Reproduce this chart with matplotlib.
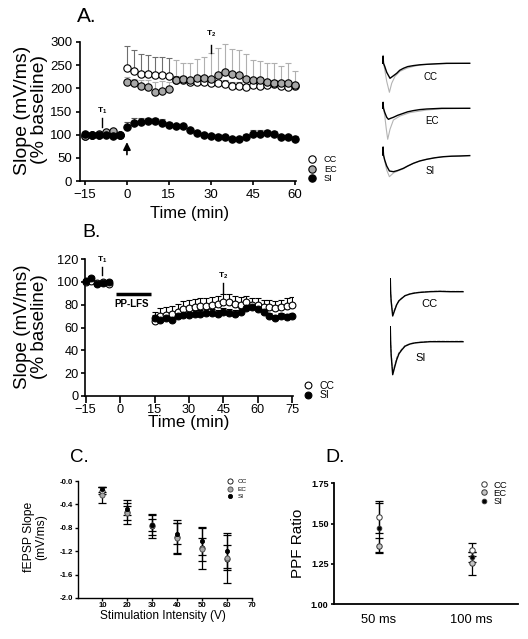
import matplotlib
matplotlib.use('Agg')
import matplotlib.pyplot as plt
import numpy as np

plt.rcParams['font.family'] = ['Liberation Sans', 'DejaVu Sans']
plt.rcParams['mathtext.fontset'] = 'custom'
plt.rcParams['mathtext.rm'] = 'Liberation Sans'
plt.rcParams['mathtext.bf'] = 'Liberation Sans:bold'

# ---------------- data ----------------
groups = ['CC', 'EC', 'SI']

a_time = [-15, -12.5, -10, -7.5, -5, -2.5, 0, 2.5, 5, 7.5, 10, 12.5, 15, 17.5, 20, 22.5, 25,
          27.5, 30, 32.5, 35, 37.5, 40, 42.5, 45, 47.5, 50, 52.5, 55, 57.5, 60]
a_cc = [97, 99, 100, 103, 102, 100, 243, 237, 231, 231, 228, 229, 227, 219, 218, 214, 214,
        214, 211, 211, 209, 205, 205, 202, 207, 205, 207, 209, 205, 202, 204]
a_ec = [98, 100, 101, 105, 107, 100, 214, 211, 205, 202, 193, 195, 198, 218, 220, 218, 222,
        222, 221, 229, 236, 230, 229, 221, 218, 218, 214, 211, 211, 211, 207]
a_si = [102, 100, 99, 100, 97, 100, 117, 126, 127, 129, 129, 126, 121, 119, 119, 110, 103,
        99, 97, 96, 94, 90, 90, 96, 101, 101, 103, 101, 94, 94, 91]
a_cc_err = [3, 3, 3, 3, 3, 3, 48, 46, 43, 41, 40, 39, 38, 8, 8, 8, 8, 8, 8, 8, 8, 8, 8, 8,
            8, 8, 8, 8, 8, 8, 8]
a_ec_err = [3, 3, 3, 3, 3, 3, 10, 10, 12, 15, 21, 20, 15, 43, 34, 36, 41, 46, 55, 59, 60,
            54, 54, 53, 43, 42, 40, 43, 37, 43, 31]
a_si_err = [4, 4, 4, 4, 4, 4, 10, 10, 10, 8, 8, 7, 6, 5, 5, 5, 5, 5, 5, 5, 5, 5, 5, 5, 8,
            8, 8, 7, 6, 6, 6]
a_xticks = [-15, 0, 15, 30, 45, 60]
a_yticks = [0, 50, 100, 150, 200, 250, 300]

b_time = [-15, -12.5, -10, -7.5, -5, 15, 17.5, 20, 22.5, 25, 27.5, 30, 32.5, 35, 37.5, 40,
          42.5, 45, 47.5, 50, 52.5, 55, 57.5, 60, 62.5, 65, 67.5, 70, 72.5, 75]
b_cc = [100, 101, 99, 100, 98, 66, 70, 71, 72, 74, 76, 77, 78, 79, 79, 80, 81, 82, 82, 81,
        80, 82, 80, 80, 78, 78, 77, 78, 79, 80]
b_si = [101, 103, 98, 99, 100, 68, 67, 68, 67, 70, 71, 71, 72, 72, 73, 73, 72, 74, 73, 72,
        74, 77, 78, 76, 74, 70, 68, 70, 69, 70]
b_cc_err = [2, 2, 2, 2, 2, 8, 7, 7, 7, 7, 7, 7, 7, 7, 7, 7, 7, 7, 7, 7, 7, 6, 6, 6, 6, 6,
            6, 6, 7, 7]
b_si_err = [2, 2, 2, 2, 2, 3, 3, 3, 3, 3, 3, 3, 3, 3, 3, 3, 3, 3, 3, 3, 3, 3, 3, 3, 3, 3,
            3, 3, 3, 3]
b_xticks = [-15, 0, 15, 30, 45, 60, 75]
b_yticks = [0, 20, 40, 60, 80, 100, 120]

c_int = [10, 20, 30, 40, 50, 60]
c_cc = [-0.17, -0.53, -0.77, -0.95, -1.14, -1.34]
c_ec = [-0.24, -0.55, -0.75, -0.98, -1.17, -1.31]
c_si = [-0.14, -0.48, -0.75, -0.90, -1.03, -1.19]
c_cc_err = [0.06, 0.21, 0.21, 0.28, 0.36, 0.41]
c_ec_err = [0.14, 0.12, 0.10, 0.26, 0.20, 0.21]
c_si_err = [0.04, 0.10, 0.17, 0.18, 0.23, 0.30]
c_xticks = [10, 20, 30, 40, 50, 60, 70]
c_yticks = [0.0, -0.4, -0.8, -1.2, -1.6, -2.0]
c_yticklabels = ['-0.0', '-0.4', '-0.8', '-1.2', '-1.6', '-2.0']

d_cat = ['50 ms', '100 ms']
d_cc = [1.543, 1.337]
d_ec = [1.364, 1.254]
d_si = [1.475, 1.295]
d_cc_err = [0.10, 0.04]
d_ec_err = [0.045, 0.07]
d_si_err = [0.15, 0.03]
d_yticks = [1.00, 1.25, 1.50, 1.75]
d_yticklabels = ['1.00', '1.25', '1.50', '1.75']

# example fEPSP traces (sample points)
tr_a_x = [0, 1, 1.4, 1.8, 3, 5, 8.3, 11, 15, 18, 21.7, 26, 31.7, 38, 45, 55, 65, 75, 88]
tr_a_cc_black = [0, 0, 7, 0, -3, -9, -15, -13, -10, -7, -5, -3.3, -2.3, -1.5, -1, -0.5, 0, 0, 0]
tr_a_cc_gray_x = [0, 1, 1.4, 1.8, 3, 5, 7.7, 10, 13.3, 18.3, 25, 32, 40, 55, 88]
tr_a_cc_gray = [0, 0, 8, 0, -6, -18, -29, -20, -13, -8, -5, -3, -1.5, -0.5, 0]
tr_a_ec_x = [0, 1, 1.4, 1.8, 3, 5, 6.7, 9, 11.7, 16, 21.7, 26, 31.7, 38, 45, 60, 88]
tr_a_ec_black = [0, 0, 6, 0, -4, -9, -11, -10, -9, -7, -5, -3.5, -2.3, -1.3, -0.7, 0, 0]
tr_a_ec_gray_x = [0, 1, 1.4, 1.8, 3, 4.5, 6, 8.3, 11.7, 18.3, 28.3, 45, 60, 88]
tr_a_ec_gray = [0, 0, 6, 0, -7, -20, -31, -21, -11.7, -7.7, -4.3, -1.7, -0.5, 0]
tr_a_si_x = [0, 1, 1.4, 1.8, 3, 5, 7.7, 11.7, 16, 21.7, 26, 31.7, 38, 45, 53, 61.7, 70, 78, 88]
tr_a_si_black = [0, 0, 8, 0, -5, -11, -16, -16.7, -15.5, -13.3, -11, -8.3, -6, -4.3, -2.8,
                 -1.7, -1.2, -1, -0.6]
tr_a_si_gray = [0, 0, 8, 0, -6, -15, -21.7, -18, -16, -13.8, -11.2, -8.4, -6, -4.3, -2.8,
                -1.7, -1.2, -1, -0.6]
tr_b_x = [0, 0.3, 0.6, 1.2, 2.7, 4.5, 6.7, 9, 11.7, 15, 20, 25, 30, 40, 50, 60, 73]
tr_b_cc_black = [0, 13, 0, -10, -24.3, -19, -13, -9, -6.7, -4, -2.3, -1.3, -0.7, 0, 0.3, 0, 0]
tr_b_cc_gray = [0, 12, 0, -9, -22, -18, -12.5, -9, -6.5, -4, -2, -1, -0.5, 0.3, 0.5, 0.3, 0.3]
tr_b_si_black = [0, 15, 0, -14, -33, -26, -18, -12, -8.3, -4.5, -2.3, -1.2, -0.7, 0, 0, 0, 0]
tr_b_si_gray = [0, 14, 0, -12, -30, -24, -16, -11, -7.5, -4, -2, -1, -0.5, 0.3, 0.5, 0.3, 0.5]

# ---------------- layout helpers ----------------
W, H = 528, 639
fig = plt.figure(figsize=(W / 100, H / 100), dpi=100)


def rect(l, t, r, b):
    return [l / W, 1 - b / H, (r - l) / W, (b - t) / H]


def fxy(x, y):
    return (x / W, 1 - y / H)


def style(ax, lw=1.2):
    for s in ['top', 'right']:
        ax.spines[s].set_visible(False)
    for s in ['left', 'bottom']:
        ax.spines[s].set_linewidth(lw)


face = {'CC': 'white', 'EC': '#a8a8a8', 'SI': 'black'}

# ---------------- Panel A ----------------
axA = fig.add_axes(rect(80, 42, 296, 181))
style(axA)
axA.set_xlim(-16.8, 60.5)
axA.set_ylim(0, 300)
zA = np.zeros(len(a_time))
axA.errorbar(a_time, a_cc, yerr=[zA, a_cc_err], fmt='none', ecolor='#6e6e6e',
             elinewidth=0.8, capsize=2.4, capthick=0.8, zorder=1, clip_on=False)
axA.errorbar(a_time, a_ec, yerr=[zA, a_ec_err], fmt='none', ecolor='#b0b0b0',
             elinewidth=0.8, capsize=2.4, capthick=0.8, zorder=1, clip_on=False)
axA.errorbar(a_time, a_si, yerr=[zA, a_si_err], fmt='none', ecolor='#555555',
             elinewidth=0.8, capsize=2.4, capthick=0.8, zorder=1, clip_on=False)
hA = []
for g, vals in zip(groups, [a_cc, a_ec, a_si]):
    h, = axA.plot(a_time, vals, 'o', ms=5.3, mfc=face[g], mec='black', mew=0.8,
                  label=g, zorder=3, clip_on=False)
    hA.append(h)
axA.set_xticks(a_xticks)
axA.set_yticks(a_yticks)
axA.tick_params(direction='out', length=3, width=1.2, labelsize=9.5, pad=2.5)
axA.set_xlabel('Time (min)', fontsize=12, va='center')
axA.xaxis.set_label_coords(*fxy(190, 214), transform=fig.transFigure)
axA.set_ylabel('Slope (mV/ms)\n(% baseline)', fontsize=14, linespacing=0.95, va='center')
axA.yaxis.set_label_coords(*fxy(31, 110), transform=fig.transFigure)
# T1, T2 markers and stimulation arrow
axA.plot([-8.75, -8.75], [117, 135], color='black', lw=1, clip_on=False)
axA.text(-8.75, 140, r'$\mathbf{T_1}$', fontsize=6, ha='center', va='bottom')
axA.plot([30, 30], [277, 294], color='black', lw=1, clip_on=False)
axA.text(30, 306, r'$\mathbf{T_2}$', fontsize=6, ha='center', va='bottom')
axA.annotate('', xy=(0, 84), xytext=(0, 57),
             arrowprops=dict(arrowstyle='-|>,head_length=0.45,head_width=0.22',
                             color='black', lw=1.2, mutation_scale=10,
                             shrinkA=0, shrinkB=0))
axA.legend(handles=hA, loc='upper left', bbox_to_anchor=fxy(307.5, 155),
           bbox_transform=fig.transFigure, frameon=False, fontsize=6.6, handlelength=1,
           handletextpad=0.8, labelspacing=0.08, borderpad=0, borderaxespad=0)
fig.text(*fxy(77, 17), 'A.', fontsize=15, ha='left', va='center')

# ---------------- Panel B ----------------
axB = fig.add_axes(rect(85, 259, 293, 396))
style(axB)
axB.set_xlim(-15.3, 75.3)
axB.set_ylim(0, 120)
zB = np.zeros(len(b_time))
axB.errorbar(b_time, b_cc, yerr=[zB, b_cc_err], fmt='none', ecolor='black',
             elinewidth=0.8, capsize=2.4, capthick=0.8, zorder=1)
axB.errorbar(b_time, b_si, yerr=[zB, b_si_err], fmt='none', ecolor='black',
             elinewidth=0.8, capsize=2.4, capthick=0.8, zorder=1)
hB = []
for g, vals in zip(['CC', 'SI'], [b_cc, b_si]):
    h, = axB.plot(b_time, vals, 'o', ms=4.9, mfc=face[g], mec='black', mew=0.8,
                  label=g, zorder=3, clip_on=False)
    hB.append(h)
axB.set_xticks(b_xticks)
axB.set_yticks(b_yticks)
axB.tick_params(axis='x', direction='out', length=5, width=1.2, labelsize=9.2, pad=1.0)
axB.tick_params(axis='y', direction='out', length=3, width=1.2, labelsize=9.2, pad=1.5)
axB.set_xlabel('Time (min)', fontsize=12.3, va='center')
axB.xaxis.set_label_coords(*fxy(189, 423), transform=fig.transFigure)
axB.set_ylabel('Slope (mV/ms)\n(% baseline)', fontsize=13.6, linespacing=0.95, va='center')
axB.yaxis.set_label_coords(*fxy(31, 327), transform=fig.transFigure)
axB.plot([-2, 13.5], [89, 89], color='black', lw=2.5, solid_capstyle='butt')
axB.text(5.0, 81, 'PP-LFS', fontsize=7, fontweight='bold', ha='center', va='center')
axB.plot([-8, -8], [106, 113], color='black', lw=1)
axB.text(-8, 115, r'$\mathbf{T_1}$', fontsize=6, ha='center', va='bottom')
axB.plot([45, 45], [90, 99], color='black', lw=1)
axB.text(45, 101, r'$\mathbf{T_2}$', fontsize=6, ha='center', va='bottom')
axB.legend(handles=hB, loc='upper left', bbox_to_anchor=fxy(302.5, 381),
           bbox_transform=fig.transFigure, frameon=False, fontsize=7.5, handlelength=1,
           handletextpad=0.6, labelspacing=-0.05, borderpad=0, borderaxespad=0)
fig.text(*fxy(82, 233), 'B.', fontsize=14, ha='left', va='center')

# ---------------- Panel C ----------------
axC = fig.add_axes(rect(77.5, 481, 252, 598))
style(axC, lw=1.0)
axC.set_xlim(0, 70)
axC.set_ylim(-2.0, 0.0)
mC = {'CC': 3.7, 'EC': 3.7, 'SI': 3.0}
hC = []
for g, vals, err in zip(groups, [c_cc, c_ec, c_si], [c_cc_err, c_ec_err, c_si_err]):
    axC.errorbar(c_int, vals, yerr=err, fmt='none', ecolor='black', elinewidth=0.9,
                 capsize=2.8, capthick=0.9, zorder=1)
    h, = axC.plot(c_int, vals, 'o', ms=mC[g], mfc=face[g], mec='#444444' if g == 'EC' else 'black',
                  mew=0.6, label=g, zorder=3, clip_on=False)
    hC.append(h)
axC.set_xticks(c_xticks)
axC.set_yticks(c_yticks)
axC.set_yticklabels(c_yticklabels)
axC.tick_params(direction='out', length=2.2, width=1.0, labelsize=5.6, pad=1.0)
for lab in axC.get_xticklabels() + axC.get_yticklabels():
    lab.set_fontweight('bold')
axC.set_xlabel('Stimulation Intensity (V)', fontsize=8.6, va='center')
axC.xaxis.set_label_coords(*fxy(163, 616), transform=fig.transFigure)
axC.set_ylabel('fEPSP Slope\n(mV/ms)', fontsize=8.7, linespacing=0.95, va='center')
axC.yaxis.set_label_coords(*fxy(35, 537), transform=fig.transFigure)
axC.legend(handles=hC, loc='upper left', bbox_to_anchor=fxy(227, 479),
           bbox_transform=fig.transFigure, frameon=False, fontsize=4.6, handlelength=1,
           handletextpad=0.6, labelspacing=0.3, borderpad=0, borderaxespad=0)
fig.text(*fxy(70, 458), 'C.', fontsize=13.5, ha='left', va='center')

# ---------------- Panel D ----------------
axD = fig.add_axes(rect(334, 483.3, 518, 604.3))
style(axD, lw=1.3)
axD.set_xlim(0.515, 2.5)
axD.set_ylim(1.0, 1.75)
d_x = [1, 2]
mD = {'CC': 3.9, 'EC': 3.9, 'SI': 3.3}
faceD = {'CC': 'white', 'EC': '#c4c4c4', 'SI': 'black'}
hD = []
for g, vals, err in zip(groups, [d_cc, d_ec, d_si], [d_cc_err, d_ec_err, d_si_err]):
    axD.errorbar(d_x, vals, yerr=err, fmt='none', ecolor='black', elinewidth=0.9,
                 capsize=2.8, capthick=0.9, zorder=1)
    h, = axD.plot(d_x, vals, 'o', ms=mD[g], mfc=faceD[g], mec='#333333', mew=0.7,
                  label=g, zorder=3)
    hD.append(h)
axD.set_xticks(d_x)
axD.set_xticklabels(d_cat)
axD.set_yticks(d_yticks)
axD.set_yticklabels(d_yticklabels)
axD.tick_params(axis='x', length=0, labelsize=9.3, pad=7)
axD.tick_params(axis='y', direction='out', length=2.5, width=1.2, labelsize=6.5, pad=1.5)
for lab in axD.get_yticklabels():
    lab.set_fontweight('bold')
axD.set_ylabel('PPF Ratio', fontsize=11, va='center')
axD.yaxis.set_label_coords(*fxy(298, 543), transform=fig.transFigure)
axD.legend(handles=hD, loc='upper left', bbox_to_anchor=fxy(479, 480.5),
           bbox_transform=fig.transFigure, frameon=False, fontsize=6.8, handlelength=1,
           handletextpad=0.5, labelspacing=-0.08, borderpad=0, borderaxespad=0)
fig.text(*fxy(325, 458), 'D.', fontsize=14, ha='left', va='center')


# ---------------- example traces ----------------
def trace_axes(x0, base, xw, ylo, yhi):
    ax = fig.add_axes(rect(x0, base - yhi, x0 + xw, base - ylo))
    ax.set_xlim(0, xw)
    ax.set_ylim(ylo, yhi)
    ax.axis('off')
    return ax


t1 = trace_axes(381.7, 63.3, 90, -35, 12)
t1.plot(tr_a_cc_gray_x, tr_a_cc_gray, color='#b4b4b4', lw=0.8)
t1.plot(tr_a_x, tr_a_cc_black, color='black', lw=1.0)
fig.text(*fxy(431, 77), 'CC', fontsize=7, ha='center', va='center')

t2 = trace_axes(381.7, 108.3, 90, -35, 12)
t2.plot(tr_a_ec_gray_x, tr_a_ec_gray, color='#b4b4b4', lw=0.8)
t2.plot(tr_a_ec_x, tr_a_ec_black, color='black', lw=1.0)
fig.text(*fxy(432, 121), 'EC', fontsize=7, ha='center', va='center')

t3 = trace_axes(381.7, 155, 90, -35, 12)
t3.plot(tr_a_si_x, tr_a_si_gray, color='#b4b4b4', lw=0.8)
t3.plot(tr_a_si_x, tr_a_si_black, color='black', lw=1.0)
fig.text(*fxy(430, 171), 'SI', fontsize=7, ha='center', va='center')

t4 = trace_axes(390, 291.7, 75, -36, 16)
t4.plot(tr_b_x, tr_b_cc_gray, color='#9a9a9a', lw=0.8, ls=(0, (3, 1)))
t4.plot(tr_b_x, tr_b_cc_black, color='black', lw=1.0)
fig.text(*fxy(430, 304), 'CC', fontsize=8, ha='center', va='center')

t5 = trace_axes(390, 341.7, 75, -36, 16)
t5.plot(tr_b_x, tr_b_si_gray, color='#9a9a9a', lw=0.8, ls=(0, (3, 1)))
t5.plot(tr_b_x, tr_b_si_black, color='black', lw=1.0)
fig.text(*fxy(421, 358), 'SI', fontsize=8, ha='center', va='center')

fig.savefig('out.png', dpi=100)
